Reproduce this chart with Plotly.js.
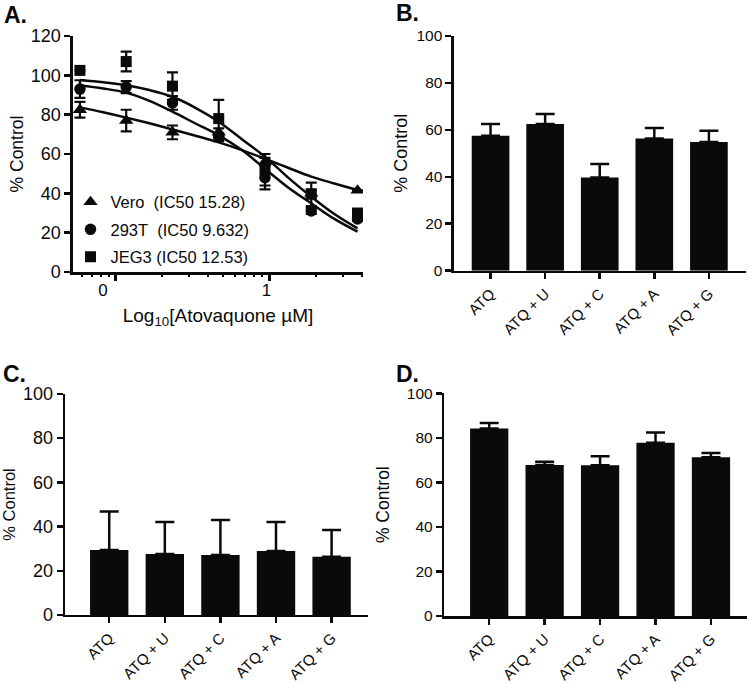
<!DOCTYPE html>
<html>
<head>
<meta charset="utf-8">
<script src="https://cdn.plot.ly/plotly-3.0.1.min.js"></script>
<style>html,body{margin:0;padding:0;background:#fff;}#chart{width:750px;height:684px;}</style>
</head>
<body>
<div id="chart"></div>
<script>
// ---- Panel A data (dose in µM) ----
const doseUM = [0.586, 1.172, 2.344, 4.688, 9.375, 18.75, 37.5];
const veroMean = [82.5, 77, 71, 71, 56, 40, 41.5];
const veroErr  = [4, 5.5, 3.5, 2, 2, 2, 0];
const t293Mean = [93, 94, 86, 68.5, 48, 31, 27];
const t293Err  = [4.5, 3, 3.5, 2, 6, 1.5, 1];
const jeg3Mean = [102.5, 107, 94.5, 78, 52, 39.5, 30];
const jeg3Err  = [0, 5, 7, 9.5, 8, 6, 1.5];
// fitted curves
const fitDose = [0.586, 0.83, 1.172, 1.66, 2.344, 3.31, 4.688, 6.63, 9.375, 13.26, 18.75, 26.5, 37.5];
const veroFit = [83.7, 81.2, 78.5, 75.6, 72.5, 69.3, 65.9, 62, 57.6, 53, 48.5, 45, 41.7];
const t293Fit = [94.8, 93.3, 91.2, 87, 81.5, 75.5, 69.5, 62, 52.5, 43, 34.9, 27, 20.5];
const jeg3Fit = [97.6, 96.5, 95, 92.5, 89.1, 83.5, 76.4, 67.5, 58.6, 48, 38.3, 29.5, 22.2];
const seriesNames = ['Vero\u00a0\u00a0(IC50 15.28)', '293T\u00a0\u00a0(IC50 9.632)', 'JEG3\u00a0(IC50 12.53)'];
const xMajorTicks = [1, 10];
const xMinorTicks = [0.6, 0.7, 0.8, 0.9, 2, 3, 4, 5, 6, 7, 8, 9, 20, 30, 40];
const xLabelPos = [0.828, 9.57];
const xLabelText = ['0', '1'];

// ---- Panels B, C, D ----
const treatments = ['ATQ', 'ATQ + U', 'ATQ + C', 'ATQ + A', 'ATQ + G'];
const bMean = [57.5, 62.5, 39.7, 56.3, 54.8];
const bErr  = [5, 4.3, 5.7, 4.5, 4.8];
const cMean = [29.4, 27.6, 27.1, 29, 26.4];
const cErr  = [17.4, 14.5, 15.9, 13.1, 12.1];
const dMean = [84.2, 67.8, 67.7, 77.8, 71.3];
const dErr  = [2.5, 1.5, 4, 4.6, 1.9];

const FONT = 'Arial, "Liberation Sans", sans-serif';
const BLACK = '#0a0a0a';

function fitTrace(y, grp) {
  return {x: fitDose, y: y, type: 'scatter', mode: 'lines', line: {color: BLACK, width: 2.5, shape: 'spline', smoothing: 1},
          xaxis: 'x', yaxis: 'y', showlegend: false, hoverinfo: 'skip', legendgroup: grp};
}
function ptTrace(y, e, name, sym, size, grp) {
  return {x: doseUM, y: y, type: 'scatter', mode: 'markers', name: name, legendgroup: grp,
          marker: {symbol: sym, size: size, color: BLACK},
          error_y: {type: 'data', array: e, visible: true, color: BLACK, thickness: 2.2, width: 5.5},
          xaxis: 'x', yaxis: 'y'};
}
function barTrace(y, e, xa, ya) {
  const zeros = y.map(() => 0);
  return {x: treatments, y: y, type: 'bar', marker: {color: BLACK, line: {width: 0}},
          error_y: {type: 'data', symmetric: false, array: e, arrayminus: zeros, visible: true, color: BLACK, thickness: 2.5, width: 9.5},
          xaxis: xa, yaxis: ya, showlegend: false};
}

const data = [
  fitTrace(veroFit, 'vero'), fitTrace(t293Fit, 't293'), fitTrace(jeg3Fit, 'jeg3'),
  ptTrace(veroMean, veroErr, seriesNames[0], 'triangle-up', 12.5, 'vero'),
  ptTrace(t293Mean, t293Err, seriesNames[1], 'circle', 11.5, 't293'),
  ptTrace(jeg3Mean, jeg3Err, seriesNames[2], 'square', 11, 'jeg3'),
  {x: [], y: [], type: 'scatter', mode: 'markers', xaxis: 'x5', yaxis: 'y', showlegend: false, hoverinfo: 'skip'},
  {x: [], y: [], type: 'scatter', mode: 'markers', xaxis: 'x6', yaxis: 'y', showlegend: false, hoverinfo: 'skip'},
  barTrace(bMean, bErr, 'x2', 'y2'),
  barTrace(cMean, cErr, 'x3', 'y3'),
  barTrace(dMean, dErr, 'x4', 'y4')
];

const axBase = {showline: true, linecolor: BLACK, linewidth: 2.5, ticks: 'outside', ticklen: 6, tickwidth: 2.5,
                tickcolor: BLACK, showgrid: false, zeroline: false, fixedrange: true};
function yAx(domain, max, standoff, anchor, tickSize, titleSize) {
  return Object.assign({}, axBase, {domain: domain, range: [0, max], tickmode: 'linear', tick0: 0, dtick: 20, anchor: anchor,
    tickfont: {size: tickSize, color: BLACK, family: FONT},
    title: {text: '% Control', font: {size: titleSize, color: BLACK, family: FONT}, standoff: standoff}});
}
function catAx(domain, range, anchor) {
  return Object.assign({}, axBase, {domain: domain, range: range, type: 'category', tickangle: -45, anchor: anchor,
    tickfont: {size: 15, color: BLACK, family: FONT}});
}
const lr = [Math.log10(0.528), Math.log10(40.7)];

const layout = {
  width: 750, height: 684, margin: {l: 0, r: 0, t: 0, b: 0},
  paper_bgcolor: '#fff', plot_bgcolor: 'rgba(0,0,0,0)',
  font: {family: FONT, color: BLACK},
  bargap: 0.31,
  showlegend: true,
  legend: {x: 0.094, xanchor: 'left', y: 0.73, yanchor: 'top', bgcolor: 'rgba(0,0,0,0)',
           font: {size: 16.5, color: BLACK, family: FONT}, tracegroupgap: 3, itemwidth: 30},
  xaxis: Object.assign({}, axBase, {domain: [0.0973, 0.484], type: 'log', range: lr, anchor: 'y',
    tickmode: 'array', tickvals: xMajorTicks, showticklabels: false,
    title: {text: 'Log<sub>10</sub>[Atovaquone \u00b5M]', font: {size: 19, color: BLACK, family: FONT}, standoff: 29}}),
  xaxis5: {overlaying: 'x', anchor: 'y', type: 'log', range: lr, showline: false, showgrid: false, zeroline: false,
    ticks: '', tickmode: 'array', tickvals: xLabelPos, ticktext: xLabelText, ticklabelstandoff: 6,
    tickfont: {size: 17, color: BLACK, family: FONT}, fixedrange: true},
  xaxis6: {overlaying: 'x', anchor: 'y', type: 'log', range: lr, showline: false, showgrid: false, zeroline: false,
    ticks: 'outside', ticklen: 3.5, tickwidth: 2, tickcolor: BLACK, tickmode: 'array', tickvals: xMinorTicks,
    showticklabels: false, fixedrange: true},
  yaxis: yAx([0.6023, 0.9474], 120, 3, 'x', 18, 17.5),
  xaxis2: catAx([0.6053, 0.9947], [-0.67, 4.68], 'y2'),
  yaxis2: yAx([0.6043, 0.9474], 100, 4, 'x2', 15.5, 18),
  xaxis3: catAx([0.0867, 0.4907], [-0.795, 4.655], 'y3'),
  yaxis3: yAx([0.1009, 0.424], 100, 4, 'x3', 18, 16.5),
  xaxis4: catAx([0.5924, 0.996], [-0.81, 4.65], 'y4'),
  yaxis4: yAx([0.0994, 0.425], 100, 13, 'x4', 15.5, 17.5),
  annotations: [
    {text: '<b>A.</b>', x: 2 / 750, y: 1 - 15 / 684},
    {text: '<b>B.</b>', x: 394 / 750, y: 1 - 13 / 684},
    {text: '<b>C.</b>', x: 1 / 750, y: 1 - 374 / 684},
    {text: '<b>D.</b>', x: 394 / 750, y: 1 - 374 / 684}
  ].map(a => Object.assign(a, {xref: 'paper', yref: 'paper', xanchor: 'left', yanchor: 'middle', showarrow: false,
                                 font: {size: 23, color: BLACK, family: FONT}}))
};

Plotly.newPlot('chart', data, layout, {displayModeBar: false, staticPlot: true});
</script>
</body>
</html>
